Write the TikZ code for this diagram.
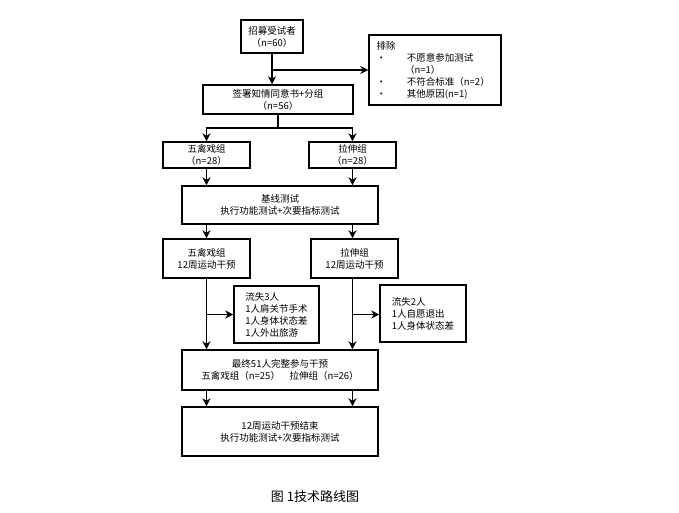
\documentclass[tikz,border=0pt]{standalone}
\usepackage{fontspec}
\setmainfont{Noto Sans CJK SC}
\usetikzlibrary{arrows.meta}
\begin{document}
\begin{tikzpicture}[x=1pt,y=-1pt,font=\fontsize{9.5}{12}\selectfont]
  \tikzstyle{stage}=[draw, line width=1.5pt, inner sep=1pt, align=center]
  \tikzstyle{flow}=[line width=1.5pt, -{Stealth[length=8pt,width=8pt]}]
  \useasboundingbox (0,0) rectangle (679,512);

  \node (recruit) at (272, 36.5) [stage, minimum width=62pt, minimum height=33pt] {招募受试者\\（n=60）};
  \node (exclude) at (435, 70) [stage, minimum width=132pt, minimum height=70pt, align=left, anchor=center] {};
  \node (excludetext) at (373, 70) [anchor=west, align=left] {排除\\
    •\hspace{2.2em}不愿意参加测试\\\hspace{3em}（n=1）\\
    •\hspace{2.2em}不符合标准（n=2）\\
    •\hspace{2.2em}其他原因(n=1)};
  \node (consent) at (278, 99.5) [stage, minimum width=150pt, minimum height=29pt] {签署知情同意书+分组\\（n=56）};

  \node (wqgroup) at (206.5, 155) [stage, minimum width=87pt, minimum height=26pt] {五禽戏组\\（n=28）};
  \node (stgroup) at (352.5, 155) [stage, minimum width=87pt, minimum height=26pt] {拉伸组\\（n=28）};

  \node (baseline) at (280, 205) [stage, minimum width=196pt, minimum height=38pt] {基线测试\\执行功能测试+次要指标测试};

  \node (wqtrain) at (206.5, 258.5) [stage, minimum width=87pt, minimum height=39pt] {五禽戏组\\12周运动干预};
  \node (sttrain) at (354.5, 258.5) [stage, minimum width=87pt, minimum height=39pt] {拉伸组\\12周运动干预};

  \node (wqloss) at (276.5, 314.5) [stage, minimum width=85pt, minimum height=57pt, align=left] {流失3人\\1人肩关节手术\\1人身体状态差\\1人外出旅游};
  \node (stloss) at (423, 313.5) [stage, minimum width=86pt, minimum height=57pt, align=left] {流失2人\\1人自愿退出\\1人身体状态差};

  \node (final) at (280, 370) [stage, minimum width=196pt, minimum height=40pt] {最终51人完整参与干预\\五禽戏组（n=25）\quad 拉伸组（n=26）};
  \node (finish) at (280, 431.5) [stage, minimum width=196pt, minimum height=49pt] {12周运动干预结束\\执行功能测试+次要指标测试};

  \node (caption) at (315, 497) [font=\fontsize{13}{15}\selectfont] {图\ 1技术路线图};

  \coordinate (split) at (272, 70);
  \coordinate (fork) at (278, 128);
  \draw[flow] (recruit) -- (consent.north -| recruit);
  \draw[flow] (split) -- (exclude.west |- split);
  \draw[line width=1.5pt] (consent) -- (fork);
  \draw[flow] (fork) -| (wqgroup.north);
  \draw[flow] (fork) -| (stgroup.north);
  \draw[flow] (wqgroup) -- (baseline.north -| wqgroup);
  \draw[flow] (stgroup) -- (baseline.north -| stgroup);
  \draw[flow] (baseline.south -| wqgroup) -- (wqtrain);
  \draw[flow] (baseline.south -| stgroup) -- (sttrain.north -| stgroup);
  \draw[flow] (wqtrain) -- (final.north -| wqtrain);
  \draw[flow] (sttrain.south -| stgroup) -- (final.north -| stgroup);
  \draw[flow] (wqtrain.south |- wqloss) -- (wqloss.west);
  \draw[flow] (stgroup |- wqloss) -- (stloss.west |- wqloss);
  \draw[flow] (final.south -| wqtrain) -- (finish.north -| wqtrain);
  \draw[flow] (final.south -| stgroup) -- (finish.north -| stgroup);
\end{tikzpicture}
\end{document}
